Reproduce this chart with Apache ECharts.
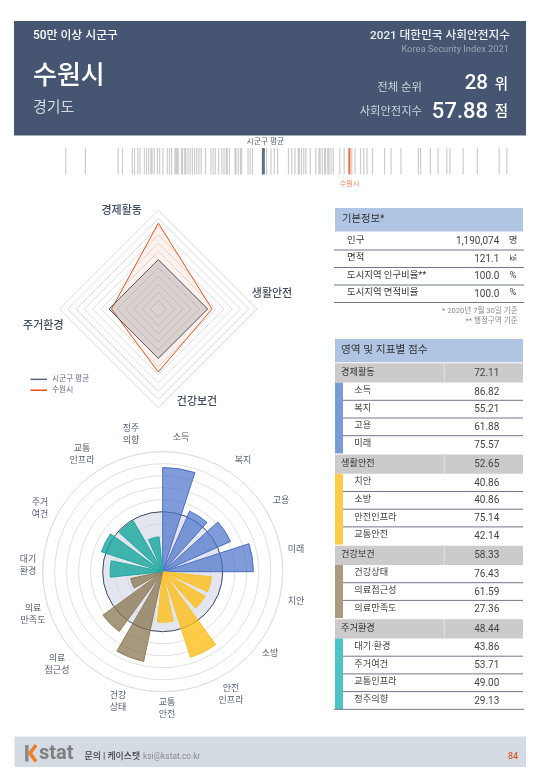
<!DOCTYPE html>
<html><head><meta charset="utf-8">
<style>html,body{margin:0;padding:0;background:#fff}#c{width:540px;height:780px}</style>
<script src="https://cdn.jsdelivr.net/npm/echarts@6/dist/echarts.min.js"></script>
</head><body><div id="c"></div>
<script>
// ---------- data ----------
const cityName = '수원시';
const province = '경기도';
const averageLabel = '시군구 평균';
const groupNote = '50만 이상 시군구';
const rankValue = '28';
const indexValue = '57.88';
const cityScore = 57.88;
const averageScore = 50;
const otherCityScores = [31.9,33.7,36.7,37.1,38.0,38.2,38.5,38.7,39.1,39.3,39.5,39.7,39.8,40.0,40.3,40.5,40.8,41.2,41.4,41.6,41.9,42.0,42.1,42.2,42.5,42.6,42.8,42.9,43.1,43.3,43.5,43.7,43.9,44.1,44.3,44.7,45.2,45.4,45.6,45.9,46.2,46.4,46.6,46.7,46.9,47.4,47.5,47.7,47.9,48.0,48.6,48.8,49.0,50.3,50.7,51.0,51.3,52.3,52.6,52.9,53.2,53.3,53.5,53.7,53.9,54.3,54.8,55.1,55.2,55.4,55.6,55.7,55.9,56.0,56.2,56.4,57.0,57.4,58.1,58.4,58.9,59.2,59.5,60.0,61.1,61.7,62.6,64.2,64.4,65.3,66.0,66.8,67.1,68.3,69.6,71.6,72.3];

const domainNames = ['경제활동','생활안전','건강보건','주거환경'];
const domainScores = ['72.11','52.65','58.33','48.44'];
const domainAverage = [50,50,50,50];
const domainCity = [72.11,52.65,58.33,48.44];

const polarLabels = ['소득','복지','고용','미래','치안','소방','안전\n인프라','교통\n안전','건강\n상태','의료\n접근성','의료\n만족도','대기\n환경','주거\n여건','교통\n인프라','정주\n의향'];
const polarValues = [86.82,55.21,61.88,75.57,40.86,40.86,75.14,42.14,76.43,61.59,27.36,43.86,53.71,49.00,29.13];
const polarGroup = [0,0,0,0,1,1,1,1,2,2,2,3,3,3,3];

const basicLabels = ['인구','면적','도시지역 인구비율**','도시지역 면적비율'];
const basicValues = ['1,190,074','121.1','100.0','100.0'];
const basicUnits = ['명','㎢','%','%'];
const basicNotes = ['* 2020년 7월 30일 기준','** 행정구역 기준'];

const subLabels = [['소득','복지','고용','미래'],['치안','소방','안전인프라','교통안전'],['건강상태','의료접근성','의료만족도'],['대기·환경','주거여건','교통인프라','정주의향']];
const subScores = [['86.82','55.21','61.88','75.57'],['40.86','40.86','75.14','42.14'],['76.43','61.59','27.36'],['43.86','53.71','49.00','29.13']];

// ---------- style ----------
const FF = 'Roboto,"Noto Sans CJK KR","Noto Sans",sans-serif';
const NAVY = '#465571', ORANGE = '#e8501c';
const stripColors = ['#7a9bd8','#ffcc4d','#ab9b7e','#4dc3c3'];
const barFill = ['rgba(78,116,202,0.72)','rgba(255,190,20,0.78)','rgba(130,110,70,0.7)','rgba(24,166,158,0.8)'];
const barLine = ['#4a6fc4','#fbc02d','#8f7d5a','#1fa8a0'];

const g = [];
function rect(x,y,w,h,fill){g.push({type:'rect',silent:true,shape:{x,y,width:w,height:h},style:{fill}});}
function hline(x1,x2,y,stroke,lw){g.push({type:'line',silent:true,shape:{x1,y1:y,x2,y2:y},style:{stroke,lineWidth:lw||1}});}
function txt(x,y,text,size,fill,align,weight){g.push({type:'text',silent:true,x,y,z:5,style:{text,fill,fontSize:size,lineHeight:12,fontFamily:FF,fontWeight:weight||400,align:align||'left',verticalAlign:'middle'}});}

// header
rect(14,21,512,114.5,NAVY);
hline(14,526,135.5,'#a4acb8',1);
txt(33,36,groupNote,11.9,'#fff','left',500);
txt(510,36,'2021 대한민국 사회안전지수',11.7,'#eef0f3','right',500);
txt(509,50,'Korea Security Index 2021',9.3,'#9aa5b5','right');
g.push({type:'text',silent:true,x:33,y:77,z:5,style:{text:cityName,fill:'#fff',fontSize:26,fontFamily:FF,fontWeight:500,align:'left',verticalAlign:'middle'}});
g.push({type:'text',silent:true,x:33,y:108,z:5,style:{text:province,fill:'#d5d9e0',fontSize:15,fontFamily:FF,align:'left',verticalAlign:'middle'}});
txt(422,88,'전체 순위',11.4,'#d0d5dd','right');
txt(488,84,rankValue,20.5,'#fff','right',500);
txt(508,85,'위',14.5,'#fff','right',500);
txt(422,112,'사회안전지수',11.3,'#d0d5dd','right');
txt(488,112,indexValue,22,'#fff','right',500);
txt(508,112,'점',14.5,'#fff','right',500);
txt(265.5,142,averageLabel,7.7,'#5d6676','center');
txt(349.5,184,cityName,7.3,'#f08a60','center');

// radar labels
const radarLabelPos = [[121.7,211],[272,294],[197,402],[43.3,326]];
domainNames.forEach((n,i)=>txt(radarLabelPos[i][0],radarLabelPos[i][1],n,11,'#414d60','center',500));

// polar labels (placed by hand, as the reference does not keep them on one circle)
const polarLabelPos = [[181,438],[243,461],[281,501],[296,550],[296,602],[270,654],[231,695],[167,709],[118,702],[57,665],[33,615],[28,566],[40,509],[82,455],[131,435]];
polarLabels.forEach((n,i)=>txt(polarLabelPos[i][0],polarLabelPos[i][1],n,9,'#555f70','center'));

// basic table
rect(335,208,188,23.5,'#b0c4e4');
txt(342,219,'기본정보*',10.3,'#333');
basicLabels.forEach((l,i)=>{
  const cy = 240.5 + i*17.5;
  txt(347,cy,l,9.4,'#333');
  txt(499.3,cy+1,basicValues[i],10,'#444','right');
  txt(513,cy,basicUnits[i],i==1?7:9.5,'#444','center');
  hline(334,524,250+i*17.5,'#6d7889',1);
});
basicNotes.forEach((n,i)=>txt(517.7,311+i*10,n,7.6,'#8a8a8a','right'));

// score table
rect(335,339,188,23.3,'#b0c4e4');
txt(341,350,'영역 및 지표별 점수',10.7,'#333');
let y = 363.3;
const GH = 19.3, RH = 17.7;
domainNames.forEach((n,gi)=>{
  rect(335,y,188,GH,'#cdcacb');
  g.push({type:'line',silent:true,shape:{x1:444.3,y1:y,x2:444.3,y2:y+GH},style:{stroke:'#e4e2e3',lineWidth:1}});
  txt(341,y+GH/2-0.5,n,9.2,'#333');
  txt(486.7,y+GH/2+0.5,domainScores[gi],10,'#444','center');
  y += GH;
  const subs = subLabels[gi];
  rect(335,y,8,RH*subs.length,stripColors[gi]);
  subs.forEach((s,i)=>{
    txt(354.3,y+RH/2-0.8,s,9.2,'#444');
    txt(486.7,y+RH/2+0.6,subScores[gi][i],10,'#444','center');
    y += RH;
    if(i<subs.length-1) hline(343,523,y,'#6d7889',1);
  });
  if(gi==domainNames.length-1) hline(334,524,y,'#6d7889',1);
  y += 1.1;
});

// footer
rect(14.5,736.5,511.5,30.5,'#d5dbe3');
rect(25,745,3.6,16.5,'#8a8a8a');
g.push({type:'polyline',silent:true,shape:{points:[[36,745],[30,753.2],[36,761.5]]},style:{stroke:'#ef7d22',lineWidth:3.6,fill:null}});
g.push({type:'text',silent:true,x:39,y:753.5,z:5,style:{text:'stat',fill:'#808080',fontSize:20,fontFamily:FF,fontWeight:700,align:'left',verticalAlign:'middle'}});
txt(84.5,757,'문의 | 케이스탯',8.9,'#3d3d3d','left',500);
txt(143,757,'ksi@kstat.co.kr',8.4,'#8a8a8a');
txt(518,757,'84',8.9,'#e0552a','right',500);

// ---------- chart ----------
const strip = a => a.map(v=>[v,0]);
const option = {
  animation:false,
  textStyle:{fontFamily:FF},
  graphic:{elements:g},
  legend:{
    orient:'vertical',left:30.5,top:375.5,padding:0,itemWidth:16.5,itemHeight:1.5,itemGap:3.2,
    data:[{name:averageLabel,icon:'rect',itemStyle:{color:'#5b6679'}},{name:cityName,icon:'rect',itemStyle:{color:ORANGE}}],
    textStyle:{fontSize:7.7,color:'#667085',fontFamily:FF},selectedMode:false
  },
  grid:{left:45,width:491.3,top:148,height:26.5},
  xAxis:{type:'value',min:30,max:75,show:false},
  yAxis:{type:'value',min:-1,max:1,show:false},
  radar:{
    center:[158.3,309],radius:98.7,startAngle:90,splitNumber:12,shape:'polygon',
    indicator:[domainNames[0],domainNames[3],domainNames[2],domainNames[1]].map(n=>({name:n,min:20,max:80})),
    axisName:{show:false},axisLine:{show:false},axisTick:{show:false},
    splitArea:{show:false},splitLine:{lineStyle:{color:'#dcdcdc',width:1}}
  },
  polar:[
    {center:[162.7,571.7],radius:120},
    {center:[162.7,571.7],radius:120}
  ],
  radiusAxis:[
    {polarIndex:0,type:'value',min:0,max:100,interval:10,axisLabel:{show:false},axisLine:{show:false},axisTick:{show:false},splitLine:{show:true,lineStyle:{color:'#e0e0e0',width:1}},z:1},
    {polarIndex:1,type:'value',min:0,max:100,show:false,splitLine:{show:false}}
  ],
  angleAxis:[
    {polarIndex:0,type:'category',data:polarLabels,startAngle:93,clockwise:true,boundaryGap:true,
      axisLine:{show:true,lineStyle:{color:'#e0e0e0',width:1}},axisTick:{show:false},splitLine:{show:false},
      axisLabel:{show:false}},
    {polarIndex:1,type:'category',data:[averageLabel],show:false,splitLine:{show:false}}
  ],
  series:[
    {type:'scatter',silent:true,symbol:'rect',symbolSize:[1.2,26.5],data:strip(otherCityScores),itemStyle:{color:'rgba(130,130,130,0.5)'},z:2},
    {type:'scatter',silent:true,symbol:'rect',symbolSize:[3,26.5],data:strip([averageScore]),itemStyle:{color:'#3c4b66'},z:3},
    {type:'scatter',silent:true,symbol:'rect',symbolSize:[2.2,26.5],data:strip([cityScore]),itemStyle:{color:ORANGE},z:3},
    {type:'radar',silent:true,symbol:'none',z:3,data:[
      {name:cityName,value:[domainCity[0],domainCity[3],domainCity[2],domainCity[1]],
        lineStyle:{color:ORANGE,width:1},areaStyle:{color:'rgba(240,140,90,0.16)'},itemStyle:{color:ORANGE}},
      {name:averageLabel,value:domainAverage,
        lineStyle:{color:'#4e5a6e',width:1},areaStyle:{color:'rgba(90,90,105,0.3)'},itemStyle:{color:'#5b6679'}}
    ]},
    {type:'bar',silent:true,coordinateSystem:'polar',polarIndex:1,barWidth:'100%',data:[averageScore],z:2,
      itemStyle:{color:'rgba(205,210,226,0.55)',borderColor:'#3f4c62',borderWidth:1}},
    {type:'bar',silent:true,coordinateSystem:'polar',polarIndex:0,barWidth:'75%',z:3,
      data:polarValues.map((v,i)=>({value:v,itemStyle:{color:barFill[polarGroup[i]],borderColor:barLine[polarGroup[i]],borderWidth:1}}))}
  ]
};
const chart = echarts.init(document.getElementById('c'));
chart.setOption(option);
</script></body></html>
